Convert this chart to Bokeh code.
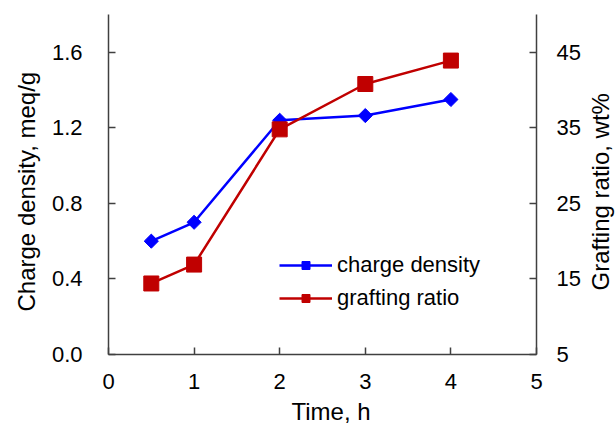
from bokeh.plotting import figure
from bokeh.models import Range1d, LinearAxis, FixedTicker, Legend, LegendItem, Title
from bokeh.layouts import row
from bokeh.embed import file_html
from bokeh.resources import INLINE
import math

time_h = [0.5, 1, 2, 3, 4]
charge_density = [0.60, 0.70, 1.24, 1.265, 1.35]
grafting_ratio = [14.4, 16.9, 34.8, 40.8, 43.9]
x_ticks = [0, 1, 2, 3, 4, 5]
left_ticks = [0.0, 0.4, 0.8, 1.2, 1.6]
right_ticks = [5, 15, 25, 35, 45]
x_title = "Time, h"
left_title = "Charge density, meq/g"
right_title = "Grafting ratio, wt%"

FONT = "Liberation Sans"
AXC = "#404040"

p = figure(width=584, height=428, x_range=Range1d(0, 5), y_range=Range1d(0, 1.8),
           output_backend="svg", toolbar_location=None,
           min_border_left=108, min_border_right=48, min_border_top=14, min_border_bottom=74)
p.extra_y_ranges = {"right": Range1d(5, 50)}
p.outline_line_color = None
p.xgrid.visible = False
p.ygrid.visible = False
p.background_fill_color = "white"
p.border_fill_color = "white"

right_axis = LinearAxis(y_range_name="right")
p.add_layout(right_axis, "right")

p.xaxis.ticker = FixedTicker(ticks=x_ticks)
p.yaxis[0].ticker = FixedTicker(ticks=left_ticks)
right_axis.ticker = FixedTicker(ticks=right_ticks)
p.yaxis[0].major_label_overrides = {v: f"{v:.1f}" for v in left_ticks}

for ax in [p.xaxis[0], p.yaxis[0], right_axis]:
    ax.axis_line_color = AXC
    ax.axis_line_width = 1.5
    ax.major_tick_line_color = AXC
    ax.major_tick_line_width = 1.5
    ax.major_tick_in = 7
    ax.major_tick_out = 0
    ax.minor_tick_line_color = None
    ax.major_label_text_font = FONT
    ax.major_label_text_font_size = "22px"
    ax.major_label_text_color = "black"

p.xaxis.major_label_standoff = 19
p.yaxis[0].major_label_standoff = 26
right_axis.major_label_standoff = 20

def make_title(txt, offset, standoff):
    return Title(text=txt, align="left", offset=offset, standoff=standoff,
                 text_font=FONT, text_font_size="24px", text_font_style="normal",
                 text_color="black")

p.add_layout(make_title(x_title, 183, 8), "below")
p.add_layout(make_title(left_title, 43, 18), "left")

bl = p.line(time_h, charge_density, line_color="#0000FF", line_width=2.5)
bs = p.scatter(time_h, charge_density, marker="square", angle=math.pi / 4, size=10,
               fill_color="#0000FF", line_color="#0000FF")
rl = p.line(time_h, grafting_ratio, line_color="#C00000", line_width=2.5, y_range_name="right")
rs = p.scatter(time_h, grafting_ratio, marker="square", size=15,
               fill_color="#C00000", line_color="#C00000", y_range_name="right")

legend = Legend(items=[LegendItem(label="charge density", renderers=[bl, bs]),
                       LegendItem(label="grafting ratio", renderers=[rl, rs])],
                location=(171, 43), padding=0, margin=0, spacing=7,
                glyph_width=53, glyph_height=20, label_height=22, label_standoff=5,
                border_line_color=None, background_fill_alpha=0,
                label_text_font=FONT, label_text_font_size="22px", label_text_color="black")
p.add_layout(legend, "center")

# narrow companion figure holding the right-hand title (reads bottom-to-top)
q = figure(width=32, height=428, x_range=Range1d(0, 1), y_range=Range1d(0, 1),
           output_backend="svg", toolbar_location=None,
           min_border_left=0, min_border_right=0, min_border_top=14, min_border_bottom=74)
q.axis.visible = False
q.grid.visible = False
q.outline_line_color = None
q.border_fill_color = "white"
q.background_fill_color = "white"
q.add_layout(make_title(right_title, 64, 0), "left")

layout = row(p, q, spacing=0)
open("out.html", "w").write(file_html(layout, INLINE))
